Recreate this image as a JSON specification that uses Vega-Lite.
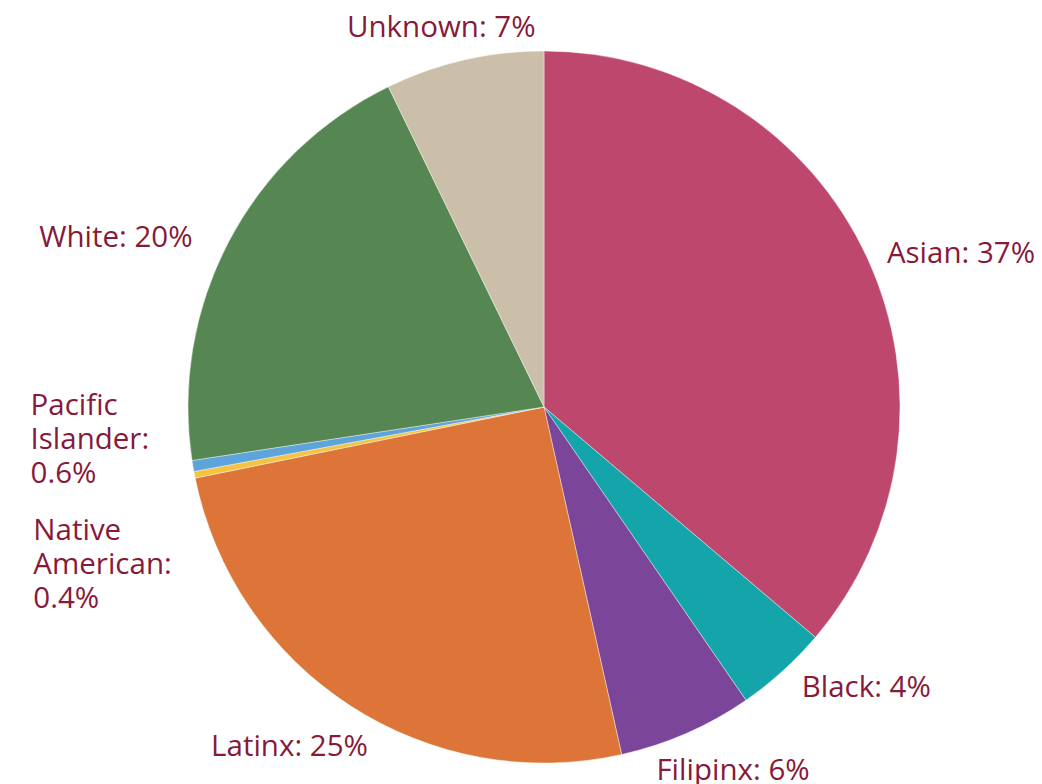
{
  "$schema": "https://vega.github.io/schema/vega-lite/v6.json",
  "width": 996,
  "height": 754,
  "autosize": {"type": "none"},
  "padding": {"left": 46, "top": 30, "right": 0, "bottom": 0},
  "background": "white",
  "config": {"view": {"stroke": null}},
  "data": {
    "values": [
      {"group": "Asian", "value": 36.2, "label": "Asian: 37%"},
      {"group": "Black", "value": 4.2, "label": "Black: 4%"},
      {"group": "Filipinx", "value": 6.1, "label": "Filipinx: 6%"},
      {"group": "Latinx", "value": 25.3, "label": "Latinx: 25%"},
      {"group": "Native American", "value": 0.3, "label": "Native\nAmerican:\n0.4%"},
      {"group": "Pacific Islander", "value": 0.5, "label": "Pacific\nIslander:\n0.6%"},
      {"group": "White", "value": 20.2, "label": "White: 20%"},
      {"group": "Unknown", "value": 7.2, "label": "Unknown: 7%"}
    ]
  },
  "transform": [{"window": [{"op": "row_number", "as": "rank"}]}],
  "encoding": {
    "theta": {"field": "value", "type": "quantitative", "stack": true},
    "order": {"field": "rank", "type": "quantitative"}
  },
  "layer": [
    {
      "mark": {"type": "arc", "radius": 356, "stroke": "#ffffff", "strokeWidth": 0.4},
      "encoding": {
        "color": {
          "field": "group",
          "type": "nominal",
          "scale": {
            "domain": ["Asian", "Black", "Filipinx", "Latinx", "Native American", "Pacific Islander", "White", "Unknown"],
            "range": ["#BE476D", "#13A5AA", "#7B4699", "#DC7537", "#F6C340", "#5DA4DB", "#568651", "#CBBFAA"]
          },
          "legend": null
        }
      }
    },
    {
      "mark": {"type": "text", "radius": 400, "dx": 54, "dy": 24, "align": "center", "baseline": "alphabetic", "font": "Open Sans", "fontSize": 29.5, "lineBreak": "\n", "lineHeight": 34},
      "encoding": {"detail": {"field": "group"}, "color": {"value": "#861A3A"}, "text": {"condition": {"test": "datum.group === 'Asian'", "field": "label"}, "value": ""}}
    },
    {
      "mark": {"type": "text", "radius": 400, "dx": 54, "dy": -7, "align": "center", "baseline": "alphabetic", "font": "Open Sans", "fontSize": 29.5, "lineBreak": "\n", "lineHeight": 34},
      "encoding": {"detail": {"field": "group"}, "color": {"value": "#861A3A"}, "text": {"condition": {"test": "datum.group === 'Black'", "field": "label"}, "value": ""}}
    },
    {
      "mark": {"type": "text", "radius": 400, "dx": 29, "dy": 6, "align": "center", "baseline": "alphabetic", "font": "Open Sans", "fontSize": 29.5, "lineBreak": "\n", "lineHeight": 34},
      "encoding": {"detail": {"field": "group"}, "color": {"value": "#861A3A"}, "text": {"condition": {"test": "datum.group === 'Filipinx'", "field": "label"}, "value": ""}}
    },
    {
      "mark": {"type": "text", "radius": 400, "dx": -37, "dy": 13, "align": "center", "baseline": "alphabetic", "font": "Open Sans", "fontSize": 29.5, "lineBreak": "\n", "lineHeight": 34},
      "encoding": {"detail": {"field": "group"}, "color": {"value": "#861A3A"}, "text": {"condition": {"test": "datum.group === 'Latinx'", "field": "label"}, "value": ""}}
    },
    {
      "mark": {"type": "text", "radius": 400, "dx": -118, "dy": 57, "align": "left", "baseline": "alphabetic", "font": "Open Sans", "fontSize": 29.5, "lineBreak": "\n", "lineHeight": 34},
      "encoding": {"detail": {"field": "group"}, "color": {"value": "#861A3A"}, "text": {"condition": {"test": "datum.group === 'Native American'", "field": "label"}, "value": ""}}
    },
    {
      "mark": {"type": "text", "radius": 400, "dx": -119, "dy": -58, "align": "left", "baseline": "alphabetic", "font": "Open Sans", "fontSize": 29.5, "lineBreak": "\n", "lineHeight": 34},
      "encoding": {"detail": {"field": "group"}, "color": {"value": "#861A3A"}, "text": {"condition": {"test": "datum.group === 'Pacific Islander'", "field": "label"}, "value": ""}}
    },
    {
      "mark": {"type": "text", "radius": 400, "dx": -74, "dy": 26, "align": "center", "baseline": "alphabetic", "font": "Open Sans", "fontSize": 29.5, "lineBreak": "\n", "lineHeight": 34},
      "encoding": {"detail": {"field": "group"}, "color": {"value": "#861A3A"}, "text": {"condition": {"test": "datum.group === 'White'", "field": "label"}, "value": ""}}
    },
    {
      "mark": {"type": "text", "radius": 400, "dx": -13, "dy": 20, "align": "center", "baseline": "alphabetic", "font": "Open Sans", "fontSize": 29.5, "lineBreak": "\n", "lineHeight": 34},
      "encoding": {"detail": {"field": "group"}, "color": {"value": "#861A3A"}, "text": {"condition": {"test": "datum.group === 'Unknown'", "field": "label"}, "value": ""}}
    }
  ]
}
